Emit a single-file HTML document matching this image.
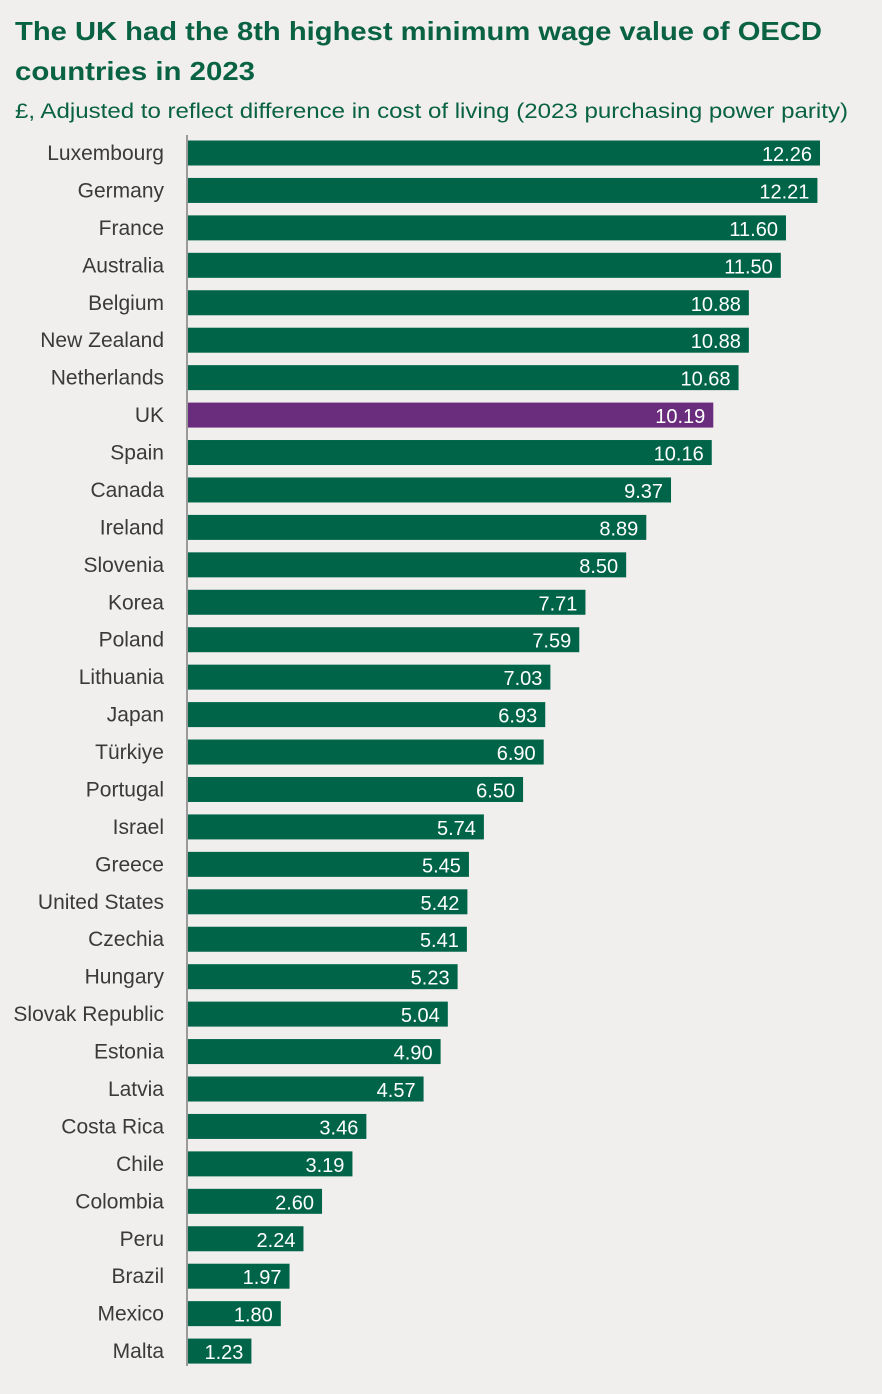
<!DOCTYPE html>
<html><head><meta charset="utf-8"><style>
body{margin:0;background:#f0efed;}
svg{display:block;font-family:"Liberation Sans",sans-serif;}
</style></head><body>
<svg id="chart" width="882" height="1394" viewBox="0 0 882 1394">
<rect width="882" height="1394" fill="#f0efed"/>
<text x="15" y="40" font-size="26" font-weight="bold" fill="#0a6245" textLength="807" lengthAdjust="spacingAndGlyphs">The UK had the 8th highest minimum wage value of OECD</text>
<text x="15" y="80" font-size="26" font-weight="bold" fill="#0a6245" textLength="240" lengthAdjust="spacingAndGlyphs">countries in 2023</text>
<text x="15" y="118" font-size="21" fill="#0a6245" textLength="833" lengthAdjust="spacingAndGlyphs">£, Adjusted to reflect difference in cost of living (2023 purchasing power parity)</text>
<g id="bars"></g>
<line x1="187" y1="135" x2="187" y2="1366" stroke="#9a9a9a" stroke-width="2"/>
</svg>
<script>
const categories=["Luxembourg","Germany","France","Australia","Belgium","New Zealand","Netherlands","UK","Spain","Canada","Ireland","Slovenia","Korea","Poland","Lithuania","Japan","Türkiye","Portugal","Israel","Greece","United States","Czechia","Hungary","Slovak Republic","Estonia","Latvia","Costa Rica","Chile","Colombia","Peru","Brazil","Mexico","Malta"];
const values=[12.26,12.21,11.60,11.50,10.88,10.88,10.68,10.19,10.16,9.37,8.89,8.50,7.71,7.59,7.03,6.93,6.90,6.50,5.74,5.45,5.42,5.41,5.23,5.04,4.90,4.57,3.46,3.19,2.60,2.24,1.97,1.80,1.23];
const highlight="UK";
const NS="http://www.w3.org/2000/svg";
const x0=188, pxPerUnit=51.55, y0=153, step=37.44, bh=25;
const xScale=v=>x0+v*pxPerUnit;
const yScale=i=>y0+i*step;
const g=document.getElementById('bars');
categories.forEach((c,i)=>{
  const cy=yScale(i);
  const r=document.createElementNS(NS,'rect');
  r.setAttribute('x',x0);r.setAttribute('y',cy-bh/2);
  r.setAttribute('width',xScale(values[i])-x0);r.setAttribute('height',bh);
  r.setAttribute('fill',c===highlight?'#6a2c7c':'#006548');
  
  
  g.appendChild(r);
  const l=document.createElementNS(NS,'text');
  l.setAttribute('x',164);l.setAttribute('y',cy+7);
  l.setAttribute('text-anchor','end');l.setAttribute('font-size','21');l.setAttribute('fill','#3a3a3a');
  l.textContent=c;
  
  
  g.appendChild(l);
  const v=document.createElementNS(NS,'text');
  v.setAttribute('x',xScale(values[i])-8);v.setAttribute('y',cy+8);
  v.setAttribute('text-anchor','end');v.setAttribute('font-size','20');v.setAttribute('fill','#ffffff');
  v.textContent=values[i].toFixed(2);
  
  
  g.appendChild(v);
});
</script>
</body></html>
